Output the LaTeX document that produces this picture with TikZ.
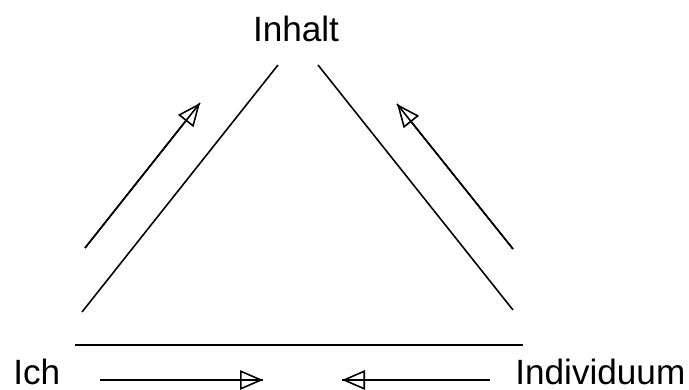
\documentclass[tikz,border=0pt]{standalone}
\usepackage{fontspec}
\setmainfont{Liberation Sans}
\usetikzlibrary{arrows.meta}

\begin{document}
\begin{tikzpicture}[
        every node/.style={font=\fontsize{20}{24}\selectfont, inner sep=0pt},
        side/.style={line width=0.9pt},
        flow/.style={line width=0.9pt, -{Triangle[open, length=4.6mm, width=3.9mm, line width=0.9pt]}, postaction={draw, -}}
      ]
        \useasboundingbox (0,0) rectangle (13.78,7.8);
        \node[anchor=base] (inhalt) at (5.92,6.96) {Inhalt};
        \node[anchor=base west] (ich) at (0.26,0.10) {Ich};
        \node[anchor=base west] (indiv) at (10.30,0.10) {Individuum};
        % ends of the triangle
        \coordinate (topl) at (5.56,6.5);
        \coordinate (topr) at (6.36,6.5);
        \coordinate (lowl) at (1.64,1.56);
        \coordinate (lowr) at (10.26,1.6);
        \coordinate (basel) at (1.5,0.9);
        \coordinate (baser) at (10.46,0.9);
        \draw[side] (lowl) -- (topl);
        \draw[side] (topr) -- (lowr);
        \draw[side] (basel) -- (baser);
        % arrows along the sides
        \coordinate (la1) at (1.7,2.84);
        \coordinate (la2) at (4.0,5.74);
        \coordinate (ra1) at (10.26,2.82);
        \coordinate (ra2) at (7.94,5.72);
        \coordinate (ba1) at (2.0,0.2);
        \coordinate (ba2) at (5.26,0.2);
        \coordinate (bb1) at (9.8,0.2);
        \coordinate (bb2) at (6.84,0.2);
        \draw[flow] (la1) -- (la2);
        \draw[flow] (ra1) -- (ra2);
        \draw[flow] (ba1) -- (ba2);
        \draw[flow] (bb1) -- (bb2);
      \end{tikzpicture}
\end{document}
